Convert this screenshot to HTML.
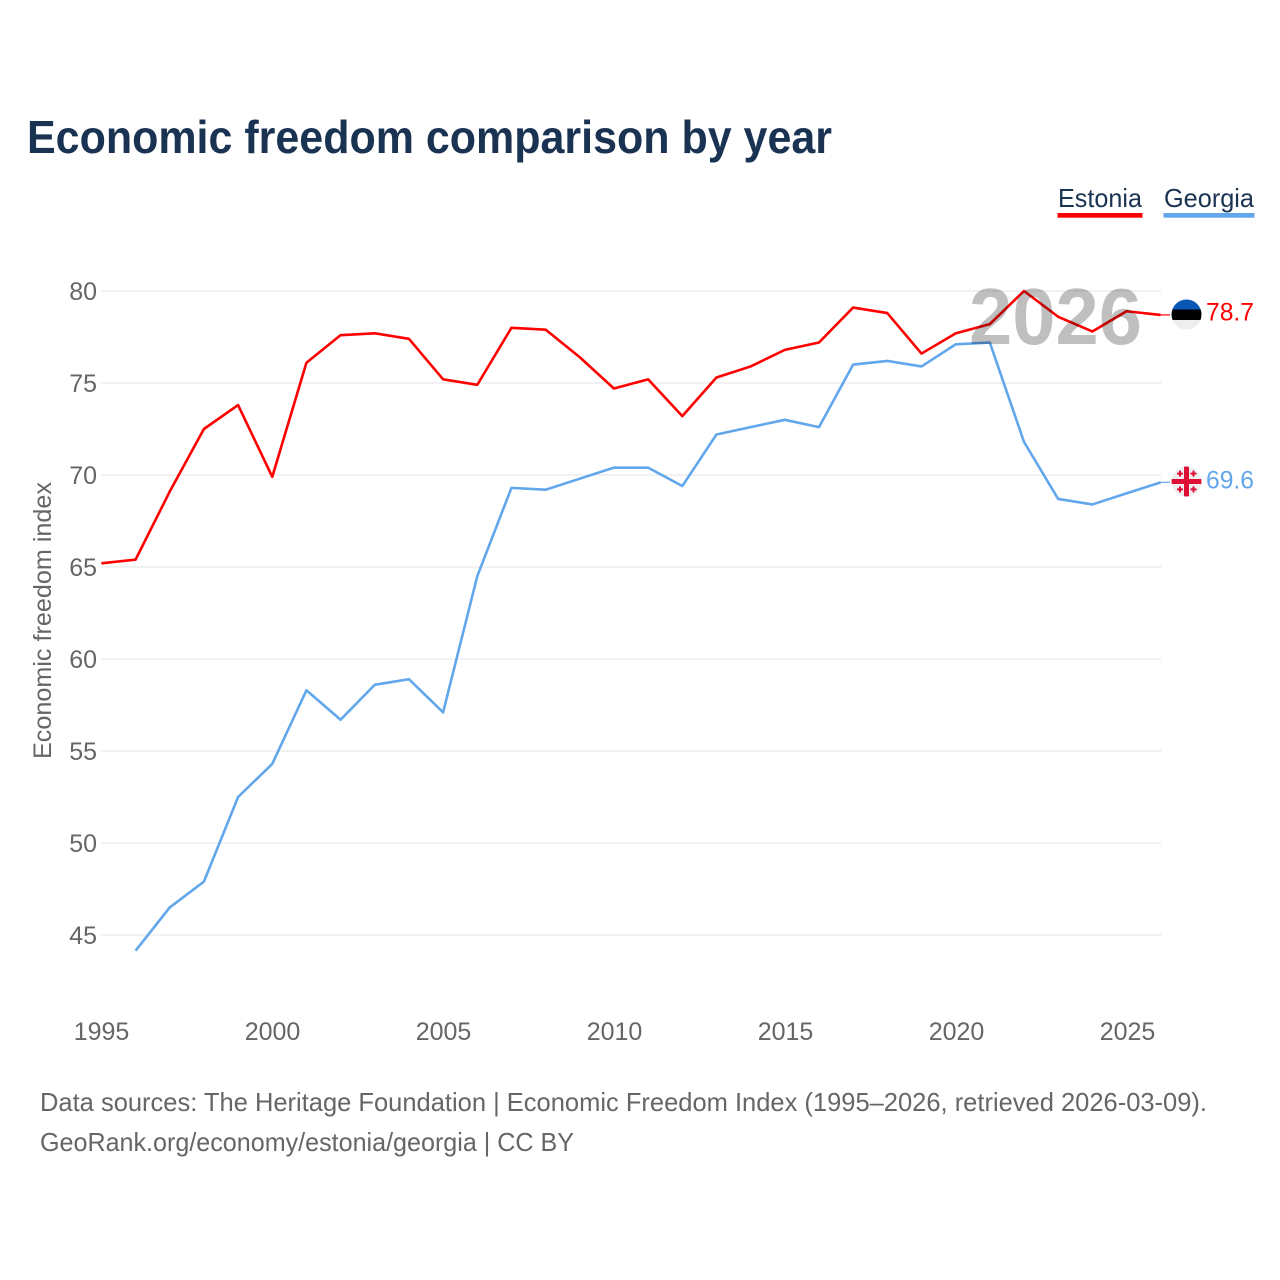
<!DOCTYPE html>
<html lang="en">
<head>
<meta charset="utf-8">
<title>Economic freedom comparison by year</title>
<style>
html,body{margin:0;padding:0;background:#fff;width:1280px;height:1280px;overflow:hidden}
svg{display:block}
text{font-family:"Liberation Sans",sans-serif}
.tick{font-size:25px;fill:#666}
.foot{font-size:26px;fill:#666}
</style>
</head>
<body>
<svg id="chart" xmlns="http://www.w3.org/2000/svg" width="1280" height="1280" viewBox="0 0 1280 1280">
  <defs>
    <clipPath id="clip-ee"><circle cx="1186.5" cy="314.5" r="15"/></clipPath>
    <clipPath id="clip-ge"><circle cx="1186.5" cy="481.5" r="15"/></clipPath>
  </defs>
  <rect width="1280" height="1280" fill="#fff"/>
  <text x="27" y="153" font-size="46" font-weight="700" fill="#1a3352" textLength="805" lengthAdjust="spacingAndGlyphs">Economic freedom comparison by year</text>

  <g>
    <text x="1058" y="207" font-size="26" fill="#1a3352" textLength="84" lengthAdjust="spacingAndGlyphs">Estonia</text>
    <rect x="1057.5" y="213" width="85" height="4.7" fill="#ff0000"/>
  </g>
  <g>
    <text x="1164" y="207" font-size="26" fill="#1a3352" textLength="90" lengthAdjust="spacingAndGlyphs">Georgia</text>
    <rect x="1163.5" y="213" width="91" height="4.7" fill="#62a6ec"/>
  </g>

  <g id="grid"></g>
  <g id="yticks"></g>
  <g id="xticks"></g>
  <text transform="translate(51,620.5) rotate(-90)" text-anchor="middle" font-size="25" fill="#666" textLength="277" lengthAdjust="spacingAndGlyphs">Economic freedom index</text>
  <g id="series"></g>
  <text id="year-watermark" x="969" y="344" font-size="80" font-weight="700" fill="#000" fill-opacity="0.25" textLength="173" lengthAdjust="spacingAndGlyphs">2026</text>

  <g clip-path="url(#clip-ee)">
    <rect x="1171" y="299" width="31" height="31" fill="#eeeeee"/>
    <rect x="1171" y="299" width="31" height="10.5" fill="#0a57b5"/>
    <rect x="1171" y="309.5" width="31" height="10.5" fill="#000"/>
  </g>
  <g clip-path="url(#clip-ge)">
    <rect x="1171" y="466" width="31" height="31" fill="#eeeeee"/>
    <rect x="1184" y="466" width="5" height="31" fill="#dd0f35"/>
    <rect x="1171" y="479" width="31" height="5" fill="#dd0f35"/>
    <path d="M1177 472.6h2v-2h2v2h2v2h-2v2h-2v-2h-2zM1190.5 472.6h2v-2h2v2h2v2h-2v2h-2v-2h-2zM1177 488.4h2v-2h2v2h2v2h-2v2h-2v-2h-2zM1190.5 488.4h2v-2h2v2h2v2h-2v2h-2v-2h-2z" fill="#dd0f35"/>
  </g>
  <text x="1206" y="320.5" font-size="25" fill="#ff0000" textLength="48" lengthAdjust="spacingAndGlyphs">78.7</text>
  <text x="1206" y="488.5" font-size="25" fill="#62a6ec" textLength="48" lengthAdjust="spacingAndGlyphs">69.6</text>

  <text class="foot" x="40" y="1111" textLength="1167" lengthAdjust="spacingAndGlyphs">Data sources: The Heritage Foundation | Economic Freedom Index (1995–2026, retrieved 2026-03-09).</text>
  <text class="foot" x="40" y="1151" textLength="534" lengthAdjust="spacingAndGlyphs">GeoRank.org/economy/estonia/georgia | CC BY</text>
</svg>
<script>
const years = [1995,1996,1997,1998,1999,2000,2001,2002,2003,2004,2005,2006,2007,2008,2009,2010,2011,2012,2013,2014,2015,2016,2017,2018,2019,2020,2021,2022,2023,2024,2025,2026];
const estoniaValues = [65.2,65.4,69.1,72.5,73.8,69.9,76.1,77.6,77.7,77.4,75.2,74.9,78.0,77.9,76.4,74.7,75.2,73.2,75.3,75.9,76.8,77.2,79.1,78.8,76.6,77.7,78.2,80.0,78.6,77.8,78.9,78.7];
const georgiaValues = [null,44.15,46.5,47.9,52.5,54.3,58.3,56.7,58.6,58.9,57.1,64.5,69.3,69.2,69.8,70.4,70.4,69.4,72.2,72.6,73.0,72.6,76.0,76.2,75.9,77.1,77.2,71.8,68.7,68.4,69.0,69.6];
const yTickLabels = [45,50,55,60,65,70,75,80];
const xTickLabels = [1995,2000,2005,2010,2015,2020,2025];

const NS = 'http://www.w3.org/2000/svg';
const xScale = function (year) { return 101.4 + (year - 1995) * 34.17; };
const xLabelScale = function (year) { return 101.5 + (year - 1995) * 34.2; };
const yScale = function (value) { return 291 + (80 - value) * 18.4; };

function make(tag, parent, attrs) {
  const el = document.createElementNS(NS, tag);
  Object.keys(attrs).forEach(function (k) { el.setAttribute(k, attrs[k]); });
  parent.appendChild(el);
  return el;
}

const gridGroup = document.getElementById('grid');
const yGroup = document.getElementById('yticks');
const xGroup = document.getElementById('xticks');
const seriesGroup = document.getElementById('series');

yTickLabels.forEach(function (tick) {
  const line = make('line', gridGroup, { x1: 101, x2: 1161.5, y1: yScale(tick), y2: yScale(tick), stroke: '#e6e6e6', 'stroke-width': 1 });
  
  
  const label = make('text', yGroup, { x: 97, y: yScale(tick) + 9, 'text-anchor': 'end', class: 'tick' });
  
  
  label.textContent = tick;
});

xTickLabels.forEach(function (tick) {
  const label = make('text', xGroup, { x: xLabelScale(tick), y: 1040, 'text-anchor': 'middle', class: 'tick' });
  
  
  label.textContent = tick;
});

function drawSeries(values, color, key) {
  let d = '';
  let last = null;
  values.forEach(function (v, i) {
    if (v === null) return;
    d += (d ? 'L' : 'M') + xScale(years[i]).toFixed(2) + ' ' + yScale(v).toFixed(2);
    last = i;
  });
  const path = make('path', seriesGroup, { d: d, fill: 'none', stroke: color, 'stroke-width': 2.6, 'stroke-linejoin': 'round' });
  
  
  const connector = make('line', seriesGroup, { x1: xScale(years[last]), x2: 1170, y1: yScale(values[last]), y2: yScale(values[last]), stroke: color, 'stroke-width': 1.2 });
  
  
}

drawSeries(estoniaValues, '#ff0000', 'estonia');
drawSeries(georgiaValues, '#62a6ec', 'georgia');
</script>
</body>
</html>
